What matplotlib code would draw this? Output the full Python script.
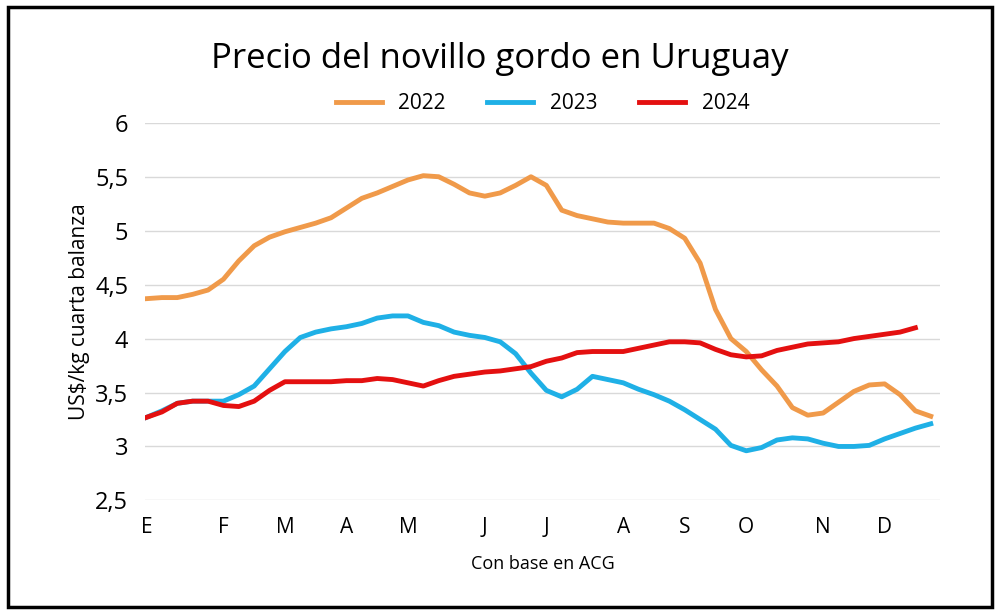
import matplotlib
matplotlib.use("Agg")
from matplotlib import pyplot as plt
from matplotlib.patches import Rectangle

plt.rcParams["font.family"] = ["Open Sans", "DejaVu Sans"]

months = ["E", "F", "M", "A", "M", "J", "J", "A", "S", "O", "N", "D"]
month_weeks = [0, 5, 9, 13, 17, 22, 26, 31, 35, 39, 44, 48]

p2022 = [4.37, 4.38, 4.38, 4.41, 4.45, 4.55, 4.72, 4.86, 4.94, 4.99, 5.03, 5.07, 5.12,
         5.21, 5.30, 5.35, 5.41, 5.47, 5.51, 5.50, 5.43, 5.35, 5.32, 5.35, 5.42, 5.50,
         5.42, 5.19, 5.14, 5.11, 5.08, 5.07, 5.07, 5.07, 5.02, 4.93, 4.70, 4.27, 4.00,
         3.88, 3.71, 3.56, 3.36, 3.29, 3.31, 3.41, 3.51, 3.57, 3.58, 3.48, 3.33, 3.28]
p2023 = [3.27, 3.33, 3.40, 3.42, 3.42, 3.42, 3.48, 3.56, 3.72, 3.88, 4.01, 4.06, 4.09,
         4.11, 4.14, 4.19, 4.21, 4.21, 4.15, 4.12, 4.06, 4.03, 4.01, 3.97, 3.86, 3.68,
         3.52, 3.46, 3.53, 3.65, 3.62, 3.59, 3.53, 3.48, 3.42, 3.34, 3.25, 3.16, 3.01,
         2.96, 2.99, 3.06, 3.08, 3.07, 3.03, 3.00, 3.00, 3.01, 3.07, 3.12, 3.17, 3.21]
p2024 = [3.27, 3.32, 3.40, 3.42, 3.42, 3.38, 3.37, 3.42, 3.52, 3.60, 3.60, 3.60, 3.60,
         3.61, 3.61, 3.63, 3.62, 3.59, 3.56, 3.61, 3.65, 3.67, 3.69, 3.70, 3.72, 3.74,
         3.79, 3.82, 3.87, 3.88, 3.88, 3.88, 3.91, 3.94, 3.97, 3.97, 3.96, 3.90, 3.85,
         3.83, 3.84, 3.89, 3.92, 3.95, 3.96, 3.97, 4.00, 4.02, 4.04, 4.06, 4.10]

fig = plt.figure(figsize=(10, 6.14), dpi=100)
ax = fig.add_axes([0.145, 0.185, 0.795, 0.615])

ax.plot(range(len(p2022)), p2022, color="#f09a4a", lw=3.5, label="2022")
ax.plot(range(len(p2023)), p2023, color="#1fb0e6", lw=3.5, label="2023")
ax.plot(range(len(p2024)), p2024, color="#e41010", lw=3.5, label="2024")

ax.set_ylim(2.5, 6)
ax.set_xlim(-0.1, 51.6)
ax.set_yticks([2.5, 3, 3.5, 4, 4.5, 5, 5.5, 6])
ax.set_yticklabels(["2,5", "3", "3,5", "4", "4,5", "5", "5,5", "6"], fontsize=17)
ax.set_xticks(month_weeks)
ax.set_xticklabels(months, fontsize=15)
ax.tick_params(length=0, pad=12)
ax.grid(axis="y", color="#d9d9d9", lw=1)
for s in ax.spines.values():
    s.set_visible(False)
ax.set_ylabel("US$/kg cuarta balanza", fontsize=15)
ax.set_xlabel("Con base en ACG", fontsize=13, labelpad=12)

fig.text(0.5, 0.89, "Precio del novillo gordo en Uruguay", ha="center", fontsize=25)
ax.legend(loc="lower center", bbox_to_anchor=(0.5, 0.995), ncol=3, frameon=False,
          fontsize=15, handlelength=2.2, columnspacing=2.0, borderaxespad=0.1)

fig.patches.append(Rectangle((0.008, 0.012), 0.984, 0.976, transform=fig.transFigure,
                             fill=False, edgecolor="black", lw=2.5))

fig.savefig("out.png")
